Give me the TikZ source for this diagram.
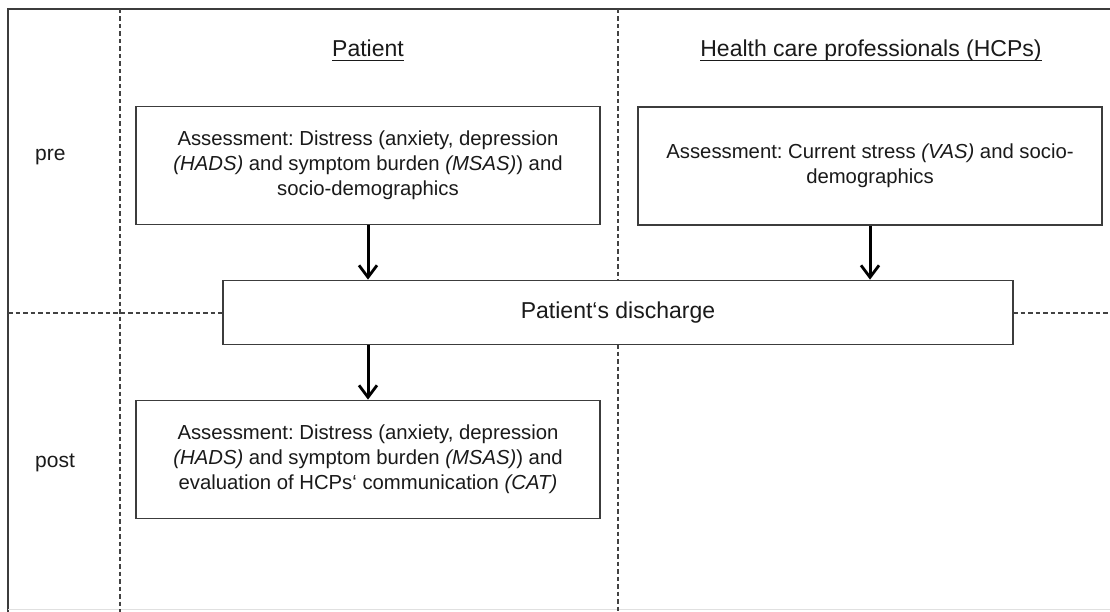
\documentclass[tikz,border=0pt]{standalone}
\usepackage{fontspec}
\setmainfont{Liberation Sans}
\usetikzlibrary{arrows.meta}
\frenchspacing
\definecolor{boxline}{HTML}{3C3C3C}
\definecolor{dashline}{HTML}{424242}
\definecolor{txt}{HTML}{1A1A1A}
\newcommand\myul[1]{\setbox0\hbox{#1}\rlap{\rule[-4.4pt]{\wd0}{1.3pt}}\box0}
\tikzset{
  assess/.style={draw=boxline, line width=1.7pt, fill=white, minimum width=464pt, minimum height=118pt,
    align=center, inner sep=0pt, text=txt, font=\fontsize{20.3}{25}\selectfont},
  disch/.style={draw=boxline, line width=1.7pt, fill=white, minimum width=790pt, minimum height=64pt,
    inner sep=0pt, text=txt, font=\fontsize{23}{27}\selectfont},
  header/.style={anchor=base, inner sep=0pt, text=txt, font=\fontsize{23}{27}\selectfont},
  phase/.style={anchor=base west, inner sep=0pt, text=txt, font=\fontsize{21}{25}\selectfont},
  sep/.style={draw=dashline, line width=1.5pt, dash pattern=on 4.5pt off 3pt},
  frame/.style={draw=boxline, line width=1.7pt},
  arr/.style={draw=black, line width=3pt, -{Straight Barb[length=12pt,width=18pt,line width=2.8pt]}}
}
\begin{document}
\begin{tikzpicture}[x=1pt,y=-1pt]
\useasboundingbox (0,0) rectangle (1110,612);
\fill[white] (0,0) rectangle (1110,612);
% outer frame
\coordinate (tl) at (8,9);
\coordinate (tr) at (1112,9);
\coordinate (bl) at (8,614);
\draw[frame] (tr) -- (tl) -- (bl);
\draw[draw=black!12, line width=1pt] (8,609) -- (1110,609);
% separators
\draw[sep] (120,9) -- (120,612);
\draw[sep] (618,9) -- (618,280);
\draw[sep] (618,344) -- (618,612);
\draw[sep] (8,313) -- (223,313);
\draw[sep] (1013,313) -- (1110,313);
% headers
\node[header] (hpat) at (368,57) {\myul{Patient}};
\node[header] (hhcp) at (871,57) {\myul{Health care professionals (HCPs)}};
\node[phase] (pre) at (35,161) {pre};
\node[phase] (post) at (35,467) {post};
% boxes
\node[assess] (pbox) at (368,165.5) {Assessment: Distress (anxiety, depression\\ \textit{(HADS)} and symptom burden \textit{(MSAS)}) and\\ socio-demographics};
\node[assess] (hbox) at (870,166) {Assessment: Current stress \textit{(VAS)} and socio-\\ demographics};
\node[disch] (dis) at (618,312.5) {Patient‘s discharge};
\node[assess] (qbox) at (368,459.5) {Assessment: Distress (anxiety, depression\\ \textit{(HADS)} and symptom burden \textit{(MSAS)}) and\\ evaluation of HCPs‘ communication \textit{(CAT)}};
% arrows
\draw[arr] (pbox.south) -- (pbox.south |- dis.north);
\draw[arr] (hbox.south) -- (hbox.south |- dis.north);
\draw[arr] (dis.south -| qbox.north) -- (qbox.north);
\end{tikzpicture}
\end{document}
